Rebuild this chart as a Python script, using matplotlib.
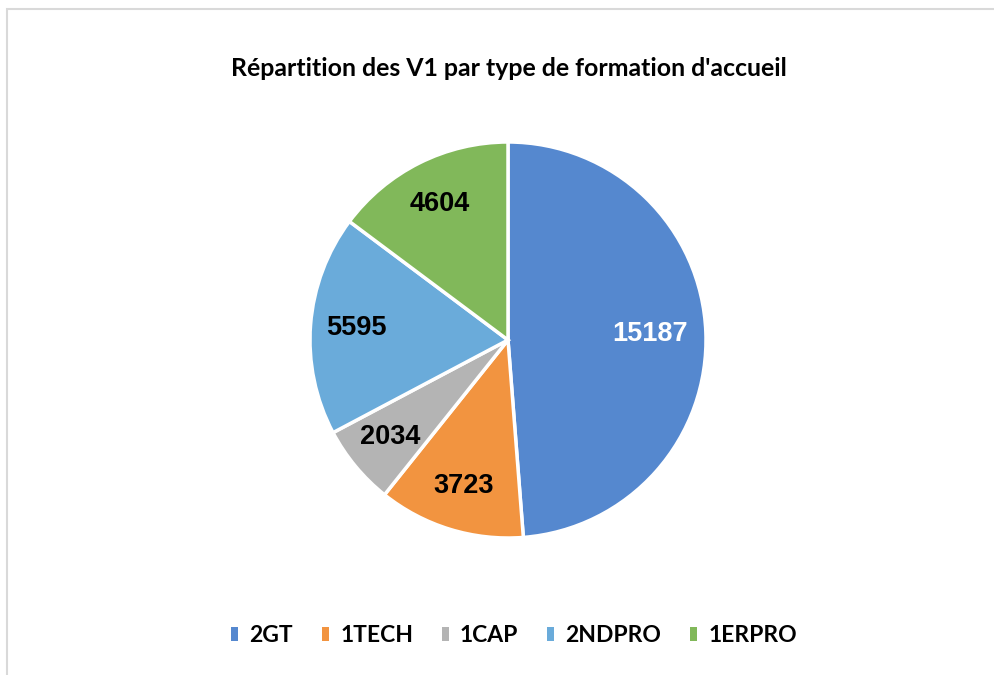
import matplotlib
matplotlib.use("Agg")
import matplotlib.pyplot as plt
from matplotlib.patches import Patch, Rectangle

# données
categories = ["2GT", "1TECH", "1CAP", "2NDPRO", "1ERPRO"]
values = [15187, 3723, 2034, 5595, 4604]
colors = ["#5588cf", "#f29440", "#b4b4b4", "#6aabda", "#81b85a"]
label_colors = ["white", "black", "black", "black", "black"]
title = "Répartition des V1 par type de formation d'accueil"

W, H = 995, 675
fig = plt.figure(figsize=(W / 100, H / 100), dpi=100)

# cadre gris clair autour du graphique
fig.patches.append(Rectangle((7 / W, -0.1), 1.2, 1 - 9 / H + 0.1,
                             transform=fig.transFigure, fill=False,
                             edgecolor="#d9d9d9", lw=1.5))

# camembert: centre (508, 340) px, rayon 198 px
cx, cy, r = 508, 340, 198
ax = fig.add_axes([(cx - r) / W, (H - cy - r) / H, 2 * r / W, 2 * r / H])

wedges, texts, autotexts = ax.pie(
    values,
    colors=colors,
    startangle=90,
    counterclock=False,
    autopct=lambda p: f"{round(p * sum(values) / 100):d}",
    pctdistance=0.77,
    wedgeprops=dict(edgecolor="white", linewidth=2.5),
)
for t, c in zip(autotexts, label_colors):
    t.set_color(c)
    t.set_fontsize(19.5)
    t.set_fontweight("bold")
    t.set_fontfamily("Liberation Sans")
# le label du 2GT est un peu plus vers le centre
autotexts[0].set_x(autotexts[0].get_position()[0] * 0.93)
ax.set_xlim(-1, 1)
ax.set_ylim(-1, 1)

fig.text(509 / W, 1 - 68 / H, title, ha="center", va="center",
         fontsize=17.9, fontweight="bold", family="Lato")

handles = [Patch(facecolor=c, edgecolor="none") for c in colors]
fig.legend(handles, categories, loc="center", bbox_to_anchor=(514 / W, 1 - 636 / H),
           ncol=5, frameon=False, handlelength=0.3, handleheight=0.55,
           handletextpad=0.5, columnspacing=1.25,
           prop=dict(family="Lato", weight="bold", size=16.5))

fig.savefig("out.png", dpi=100, facecolor="white")
